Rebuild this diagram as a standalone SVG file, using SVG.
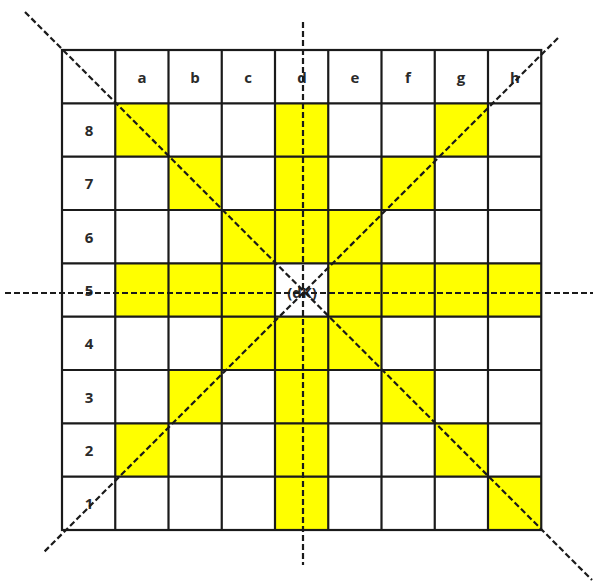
<svg xmlns="http://www.w3.org/2000/svg" width="593" height="583" viewBox="0 0 593 583">
<style>
.y{fill:#ffff00}
.g{stroke:#1a1a1a;stroke-width:2.2;fill:none}
.d{stroke:#1a1a1a;stroke-width:2.2;stroke-dasharray:6,3;fill:none}
.t{font-family:"Open Sans","Liberation Sans",sans-serif;font-weight:bold;font-size:15px;fill:#2a2a2a;text-anchor:middle}
</style>
<rect width="593" height="583" fill="#fff"/>
<g id="cells">
<rect class="y" x="115.25" y="103.3" width="53.25" height="53.4"/>
<rect class="y" x="275" y="103.3" width="53.25" height="53.4"/>
<rect class="y" x="434.75" y="103.3" width="53.25" height="53.4"/>
<rect class="y" x="168.5" y="156.7" width="53.25" height="53.3"/>
<rect class="y" x="275" y="156.7" width="53.25" height="53.3"/>
<rect class="y" x="381.5" y="156.7" width="53.25" height="53.3"/>
<rect class="y" x="221.75" y="210" width="159.75" height="53.3"/>
<rect class="y" x="115.25" y="263.3" width="159.75" height="53.4"/>
<rect class="y" x="328.25" y="263.3" width="213" height="53.4"/>
<rect class="y" x="221.75" y="316.7" width="159.75" height="53.3"/>
<rect class="y" x="168.5" y="370" width="53.25" height="53.3"/>
<rect class="y" x="275" y="370" width="53.25" height="53.3"/>
<rect class="y" x="381.5" y="370" width="53.25" height="53.3"/>
<rect class="y" x="115.25" y="423.3" width="53.25" height="53.4"/>
<rect class="y" x="275" y="423.3" width="53.25" height="53.4"/>
<rect class="y" x="434.75" y="423.3" width="53.25" height="53.4"/>
<rect class="y" x="275" y="476.7" width="53.25" height="53.3"/>
<rect class="y" x="488" y="476.7" width="53.25" height="53.3"/>
</g>
<g id="grid" class="g">
<rect x="62" y="50" width="479.25" height="480"/>
<path d="M115.25 50V530M168.5 50V530M221.75 50V530M275 50V530M328.25 50V530M381.5 50V530M434.75 50V530M488 50V530"/>
<path d="M62 103.3H541.25M62 156.7H541.25M62 210H541.25M62 263.3H541.25M62 316.7H541.25M62 370H541.25M62 423.3H541.25M62 476.7H541.25"/>
</g>
<g id="labels" class="t">
<text x="142" y="83">a</text>
<text x="195" y="83">b</text>
<text x="248" y="83">c</text>
<text x="302" y="83">d</text>
<text x="355" y="83">e</text>
<text x="408" y="83">f</text>
<text x="461" y="83">g</text>
<text x="515" y="83">h</text>
<text x="89" y="136">8</text>
<text x="89" y="189">7</text>
<text x="89" y="243">6</text>
<text x="89" y="296">5</text>
<text x="89" y="349">4</text>
<text x="89" y="403">3</text>
<text x="89" y="456">2</text>
<text x="89" y="509">1</text>
<text x="302" y="298">(dK)</text>
</g>
<g id="connectors" class="d">
<path d="M5 293H593"/>
<path d="M303 22V565"/>
<path d="M25 12L592 580"/>
<path d="M558 38L43 553"/>
</g>
</svg>
